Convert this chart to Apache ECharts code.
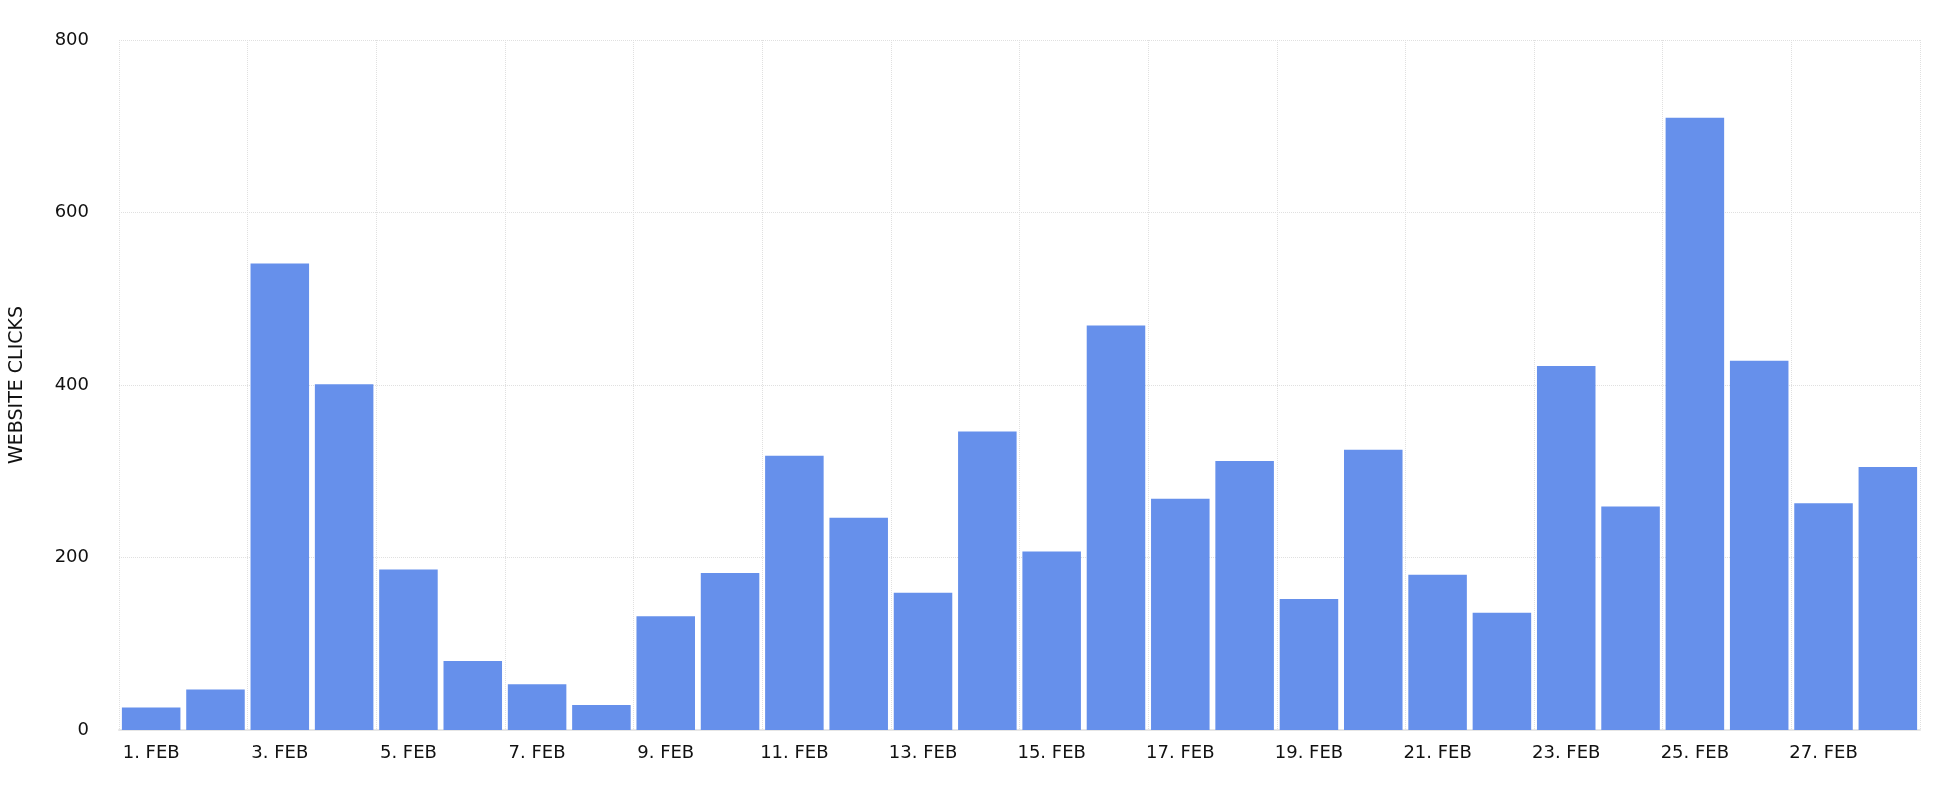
<!DOCTYPE html>
<html><head><meta charset="utf-8">
<script src="https://cdn.jsdelivr.net/npm/echarts@6/dist/echarts.min.js"></script>
<style>html,body{margin:0;padding:0;background:#fff}#c{width:1940px;height:800px}</style>
</head><body><div id="c"></div>
<script>
var days = [];
for (var d = 1; d <= 28; d++) days.push(d + '. FEB');
var clicks = [26, 47, 541, 401, 186, 80, 53, 29, 132, 182, 318, 246, 159, 346,
  207, 469, 268, 312, 152, 325, 180, 136, 422, 259, 710, 428, 263, 305];
var yTicks = [0, 200, 400, 600, 800];

var chart = echarts.init(document.getElementById('c'));
chart.setOption({
  animation: false,
  textStyle: { fontFamily: 'DejaVu Sans' },
  grid: { left: 119, right: 20, top: 40, bottom: 70 },
  xAxis: {
    type: 'category',
    data: days,
    boundaryGap: true,
    axisLine: { lineStyle: { color: '#e6e6e6', width: 2 } },
    axisTick: { alignWithLabel: true, interval: 1, length: 8, lineStyle: { color: '#e6e6e6', width: 2 } },
    axisLabel: { interval: 1, color: '#111', fontSize: 18, margin: 14 },
    splitLine: { show: true, interval: 1, lineStyle: { color: '#e0e0e0', type: 'dotted' } }
  },
  yAxis: {
    type: 'value',
    min: yTicks[0], max: yTicks[yTicks.length - 1], interval: 200,
    name: 'WEBSITE CLICKS',
    nameLocation: 'middle',
    nameGap: 92,
    nameTextStyle: { color: '#111', fontSize: 19 },
    axisLine: { show: false },
    axisTick: { show: false },
    axisLabel: { color: '#111', fontSize: 18, margin: 30 },
    splitLine: { lineStyle: { color: '#e0e0e0', type: 'dotted' } }
  },
  series: [{
    type: 'bar',
    data: clicks,
    barCategoryGap: '9%',
    itemStyle: { color: '#6690eb' }
  }]
});
</script></body></html>
